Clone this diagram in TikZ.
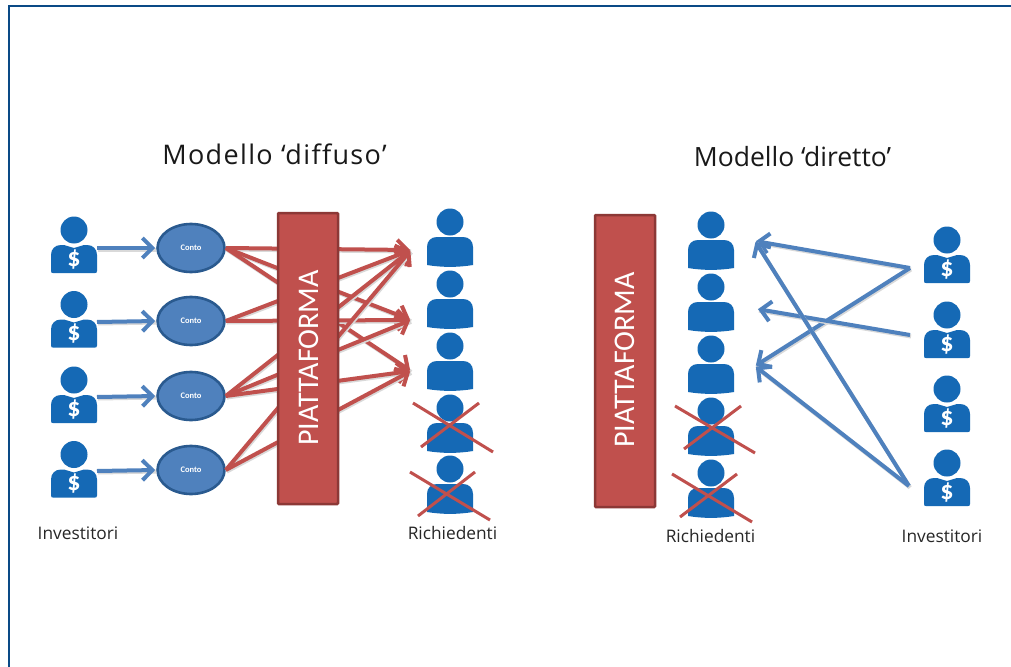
\documentclass[tikz,border=0pt]{standalone}
\usepackage{fontspec}
\setmainfont[Ligatures={NoCommon,NoRequired,NoContextual}]{Carlito}
\newfontfamily\labelfont[Ligatures={NoCommon}]{Open Sans}
\newfontfamily\titlefont[Ligatures={NoCommon},LetterSpace=5]{Open Sans}
\usetikzlibrary{arrows.meta,shapes.geometric}
\definecolor{iconblue}{HTML}{1569B5}
\definecolor{linkblue}{HTML}{4F81BD}
\definecolor{darkblue}{HTML}{2A5A8F}
\definecolor{linkred}{HTML}{C0504D}
\definecolor{darkred}{HTML}{8C3836}
\definecolor{framecol}{HTML}{0A4A86}
\tikzset{
  x=1pt,y=-1pt,
  personicon/.pic={
    \fill[iconblue] (0,0) circle (13.5);
    \fill[iconblue] (-23,43) -- (-23,25) .. controls (-23,19) and (-19,15) .. (-13,15) -- (13,15) .. controls (19,15) and (23,19) .. (23,25) -- (23,43) .. controls (8,45.5) and (-8,45.5) .. (-23,43) -- cycle;
  },
  investoricon/.pic={
    \fill[iconblue] (0,0) circle (13.5);
    \fill[iconblue] (-23,41) -- (-23,25) .. controls (-23,19) and (-19,15) .. (-13,15) -- (-10,15) -- (0,18) -- (10,15) -- (13,15) .. controls (19,15) and (23,19) .. (23,25) -- (23,41) .. controls (23,43) and (22,43) .. (21,43) -- (-21,43) .. controls (-22,43) and (-23,43) .. (-23,41) -- cycle;
    \node[text=white,font=\bfseries\fontsize{26}{26}\selectfont,inner sep=0pt] at (0,29.5) {\$};
  },
  barbline/.style={line width=4pt,-{Straight Barb[length=10pt,width=20pt,line width=4pt]},shorten >=1pt},
  shadowed/.style={preaction={draw=black!15,-,line width=4pt,transform canvas={shift={(1pt,-1.5pt)}}}},
  bluearrow/.style={barbline,draw=linkblue,shadowed},
  redarrow/.style={barbline,draw=linkred,shadowed},
  crossline/.style={draw=linkred,line width=3pt},
  contobox/.style={ellipse,draw=darkblue,line width=2.6pt,fill=linkblue,minimum width=67pt,minimum height=48pt,inner sep=0pt,text=white,font=\bfseries\fontsize{8.5}{9}\selectfont},
  platbox/.style={draw=darkred,fill=linkred,line width=2.5pt,rounded corners=1pt,minimum width=60pt,minimum height=291pt,inner sep=0pt},
  plattext/.style={text=white,rotate=90,font=\fontsize{30}{32}\selectfont,inner sep=0pt},
  titletext/.style={font=\titlefont\fontsize{27}{30}\selectfont,text=black!90,inner sep=0pt},
  titletextb/.style={font=\labelfont\fontsize{26.5}{30}\selectfont,text=black!90,inner sep=0pt},
  labeltext/.style={font=\labelfont\fontsize{17.3}{20}\selectfont,text=black!85,inner sep=0pt},
}
\begin{document}
\begin{tikzpicture}
\useasboundingbox (0,0) rectangle (1011,666);
\fill[white] (0,0) rectangle (1011,666);
% frame
\draw[framecol,line width=2.5pt] (9,670) -- (9,6) -- (1015,6);
% titles
\node[titletext] (t1) at (274.5,154) {Modello ‘diffuso’};
\node[titletextb] (t2) at (792.5,157) {Modello ‘diretto’};
% left investors
\foreach \y in {230,304.5,380,454.5}{ \pic at (74,\y) {investoricon}; }
\coordinate (i1) at (97,248); \coordinate (i2) at (97,322);
\coordinate (i3) at (97,397); \coordinate (i4) at (97,471);
% accounts
\node[contobox] (c1) at (191,248) {Conto};
\node[contobox] (c2) at (191,321) {Conto};
\node[contobox] (c3) at (191,396) {Conto};
\node[contobox] (c4) at (191,470) {Conto};
\foreach \i in {1,2,3,4}{ \draw[bluearrow] (i\i) -- (c\i.west); }
% red links
\coordinate (ta) at (411,250); \coordinate (tb) at (411,320); \coordinate (tc) at (411,371);
\foreach \a/\b in {c1/ta,c1/tb,c1/tc,c2/ta,c2/tb,c3/ta,c3/tb,c3/tc,c4/ta,c4/tc}{
  \draw[redarrow] (\a.east) -- (\b);
}
% platform left
\node[platbox] (p1) at (308,358.5) {};
\node[plattext] (p1t) at (309,358) {PIATTAFORMA};
% left applicants
\foreach \y in {222,284,346,408,469}{ \pic at (450,\y) {personicon}; }
\draw[crossline] (413,403) -- (493,452);
\draw[crossline] (421,447) -- (479,403);
\draw[crossline] (410,472) -- (490,520);
\draw[crossline] (418,516) -- (475,472);
\node[labeltext] (l1) at (78,533) {Investitori};
\node[labeltext] (l2) at (452.5,533) {Richiedenti};
% right side
\node[platbox,minimum height=292pt] (p2) at (625,361) {};
\node[plattext] (p2t) at (625,360) {PIATTAFORMA};
\foreach \y in {225,287,349,411,473}{ \pic at (711,\y) {personicon}; }
\draw[crossline] (675,406) -- (755,453);
\draw[crossline] (684,449) -- (741,406);
\draw[crossline] (672,474) -- (752,522);
\draw[crossline] (680,517) -- (737,474);
\foreach \y in {240,315,389,463}{ \pic at (947,\y) {investoricon}; }
\coordinate (s1) at (910,268); \coordinate (s2) at (910,335); \coordinate (s4) at (909,486);
\coordinate (r1) at (755,241); \coordinate (r2) at (757,309); \coordinate (r3) at (755,366);
\foreach \a/\b in {s1/r1,s1/r3,s2/r2,s4/r1,s4/r3}{
  \draw[bluearrow] (\a) -- (\b);
}
\node[labeltext] (l3) at (710.5,536) {Richiedenti};
\node[labeltext] (l4) at (942,536) {Investitori};
\end{tikzpicture}
\end{document}
